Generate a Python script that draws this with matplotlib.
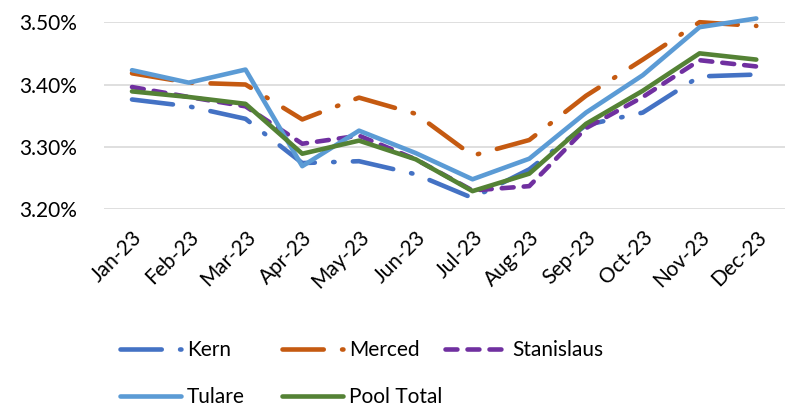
import matplotlib
matplotlib.use("Agg")
import matplotlib.pyplot as plt
from matplotlib.ticker import FuncFormatter, MultipleLocator

plt.rcParams['font.family'] = ['Lato', 'DejaVu Sans']

months = ["Jan-23", "Feb-23", "Mar-23", "Apr-23", "May-23", "Jun-23",
          "Jul-23", "Aug-23", "Sep-23", "Oct-23", "Nov-23", "Dec-23"]

kern = [3.376, 3.365, 3.345, 3.274, 3.277, 3.256, 3.218, 3.264, 3.335, 3.355, 3.413, 3.416]
merced = [3.418, 3.403, 3.400, 3.344, 3.379, 3.353, 3.286, 3.311, 3.382, 3.440, 3.500, 3.494]
stanislaus = [3.396, 3.380, 3.365, 3.305, 3.318, 3.280, 3.230, 3.237, 3.330, 3.380, 3.439, 3.429]
tulare = [3.423, 3.403, 3.424, 3.269, 3.326, 3.290, 3.248, 3.281, 3.355, 3.415, 3.492, 3.506]
pool = [3.389, 3.380, 3.369, 3.289, 3.310, 3.280, 3.229, 3.257, 3.337, 3.390, 3.450, 3.440]

fig = plt.figure(figsize=(7.91, 4.11), dpi=100)
ax = fig.add_axes([0.131, 0.491, 0.861, 0.455])

lw = 3.3
x = range(len(months))
series = [
    ("Kern", kern, "#4472C4", (0, (9, 4, 0.3, 4))),
    ("Merced", merced, "#C55A11", (0, (9, 4, 0.3, 4))),
    ("Stanislaus", stanislaus, "#7030A0", (0, (2.6, 2.2))),
    ("Tulare", tulare, "#5B9BD5", "-"),
    ("Pool Total", pool, "#548235", "-"),
]
lines = {}
for name, vals, color, ls in series:
    lines[name], = ax.plot(x, vals, color=color, lw=lw, linestyle=ls, label=name,
                           dash_capstyle='round', solid_capstyle='round', clip_on=False)

ax.set_xlim(-0.5, 11.5)
ax.set_ylim(3.20, 3.50)
ax.yaxis.set_major_locator(MultipleLocator(0.10))
ax.yaxis.set_major_formatter(FuncFormatter(lambda v, p: f"{v:.2f}%"))
ax.set_xticks(list(x))
ax.set_xticklabels(months, rotation=45, ha='right', rotation_mode='anchor')
ax.tick_params(axis='both', length=0, labelsize=15, colors='#000000')
ax.tick_params(axis='x', pad=13)
ax.tick_params(axis='y', pad=19)
ax.grid(axis='y', color='#D9D9D9', lw=1.2)
ax.set_axisbelow(True)
for s in ax.spines.values():
    s.set_visible(False)

# Excel-style legend: fixed-width columns, filled row by row
cols = [0.152, 0.357, 0.563]
rows = [0.148, 0.034]
for i, name in enumerate(["Kern", "Merced", "Stanislaus", "Tulare", "Pool Total"]):
    fig.legend([lines[name]], [name], loc='center left',
               bbox_to_anchor=(cols[i % 3], rows[i // 3]), frameon=False,
               fontsize=15, handlelength=2.9, handletextpad=0.3,
               borderpad=0, borderaxespad=0)

fig.savefig("out.png", dpi=100)
